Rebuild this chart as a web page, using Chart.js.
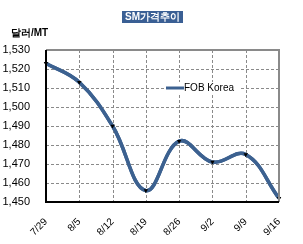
<!DOCTYPE html>
<html><head><meta charset="utf-8">
<script src="https://cdn.jsdelivr.net/npm/chart.js@4"></script>
<style>html,body{margin:0;padding:0;background:#fff}#c{display:block}</style>
</head><body>
<canvas id="c" width="303" height="244"></canvas>
<script>
const categories = ['7/29','8/5','8/12','8/19','8/26','9/2','9/9','9/16'];
const fobKorea = [1523, 1513, 1490, 1456, 1482, 1471, 1475, 1452];
const yMin = 1450, yMax = 1530, yStep = 10;
const titleText = 'SM가격추이';
const unitText = '달러/MT';
const seriesName = 'FOB Korea';

const lineColor = '#3c6190';
const gridColor = '#8a8a8a';
const font = 'Arial, "Liberation Sans", sans-serif';

const decor = {
  id: 'decor',
  afterDraw(chart) {
    const ctx = chart.ctx, a = chart.chartArea;
    const xs = chart.scales.x, ys = chart.scales.y;
    ctx.save();
    // gridlines
    ctx.strokeStyle = gridColor; ctx.lineWidth = 1;
    for (let i = 0; i < categories.length; i++) {
      const x = Math.round(xs.getPixelForValue(i)) + 0.5;
      for (let y = a.top; y < a.bottom; y += 5) {
        ctx.beginPath(); ctx.moveTo(x, y); ctx.lineTo(x, Math.min(y + 3, a.bottom)); ctx.stroke();
      }
    }
    for (let v = yMin; v <= yMax; v += yStep) {
      const y = Math.round(ys.getPixelForValue(v)) + 0.5;
      for (let x = a.left; x < a.right; x += 5) {
        ctx.beginPath(); ctx.moveTo(x, y); ctx.lineTo(Math.min(x + 3, a.right), y); ctx.stroke();
      }
    }
    ctx.restore();
    // redraw the data line on top of the grid
    const meta = chart.getDatasetMeta(0);
    if (meta && meta.controller) meta.controller.draw();
    ctx.save();
    ctx.strokeStyle = '#8a8a8a'; ctx.lineWidth = 2;
    ctx.beginPath(); ctx.moveTo(a.left, a.top); ctx.lineTo(a.right, a.top); ctx.lineTo(a.right, a.bottom); ctx.stroke();
    ctx.strokeStyle = '#000'; ctx.lineWidth = 2;
    ctx.beginPath(); ctx.moveTo(a.left, a.top); ctx.lineTo(a.left, a.bottom); ctx.lineTo(a.right, a.bottom); ctx.stroke();
    ctx.font = 'bold 10px ' + font;
    const tw = ctx.measureText(titleText).width;
    const cx = 152.5;
    ctx.fillStyle = '#3a5f94';
    ctx.fillRect(cx - tw/2 - 3, 11, tw + 6, 12);
    ctx.fillStyle = '#fff'; ctx.textAlign = 'center'; ctx.textBaseline = 'middle';
    ctx.fillText(titleText, cx, 17.5);
    ctx.fillStyle = '#000'; ctx.font = 'bold 10px ' + font; ctx.textAlign = 'left';
    ctx.fillText(unitText, 11, 33);
    ctx.fillStyle = '#fff'; ctx.fillRect(164, 82, 76, 13);
    ctx.strokeStyle = lineColor; ctx.lineWidth = 3;
    ctx.beginPath(); ctx.moveTo(166, 88); ctx.lineTo(184, 88); ctx.stroke();
    ctx.fillStyle = '#000'; ctx.font = '10px ' + font;
    ctx.fillText(seriesName, 184, 88.5);
    ctx.restore();
  }
};

new Chart(document.getElementById('c'), {
  type: 'line',
  data: {
    labels: categories,
    datasets: [{
      label: seriesName,
      data: fobKorea,
      borderColor: lineColor,
      backgroundColor: '#000',
      borderWidth: 3.5,
      tension: 0.4,
      pointStyle: 'triangle',
      rotation: 180,
      pointRadius: 2.5,
      pointBackgroundColor: '#000',
      pointBorderColor: '#000',
      pointBorderWidth: 0,
      clip: false
    }]
  },
  options: {
    responsive: false,
    animation: false,
    events: [],
    layout: { padding: { top: 50, right: 24, left: 0, bottom: 0 } },
    plugins: { legend: { display: false }, title: { display: false }, tooltip: { enabled: false } },
    scales: {
      x: {
        offset: false,
        grid: { display: false },
        border: { display: false },
        ticks: { minRotation: 45, maxRotation: 45, color: '#000', font: { family: font, size: 10 }, padding: 6, autoSkip: false },
        afterFit(s) { s.height = 42; }
      },
      y: {
        min: yMin, max: yMax,
        grid: { display: false },
        border: { display: false },
        ticks: { stepSize: yStep, color: '#000', padding: 8, font: { family: font, size: 11 },
          callback: v => v.toLocaleString('en-US') },
        afterFit(s) { s.width = 46; }
      }
    }
  },
  plugins: [decor]
});
</script>
</body></html>
